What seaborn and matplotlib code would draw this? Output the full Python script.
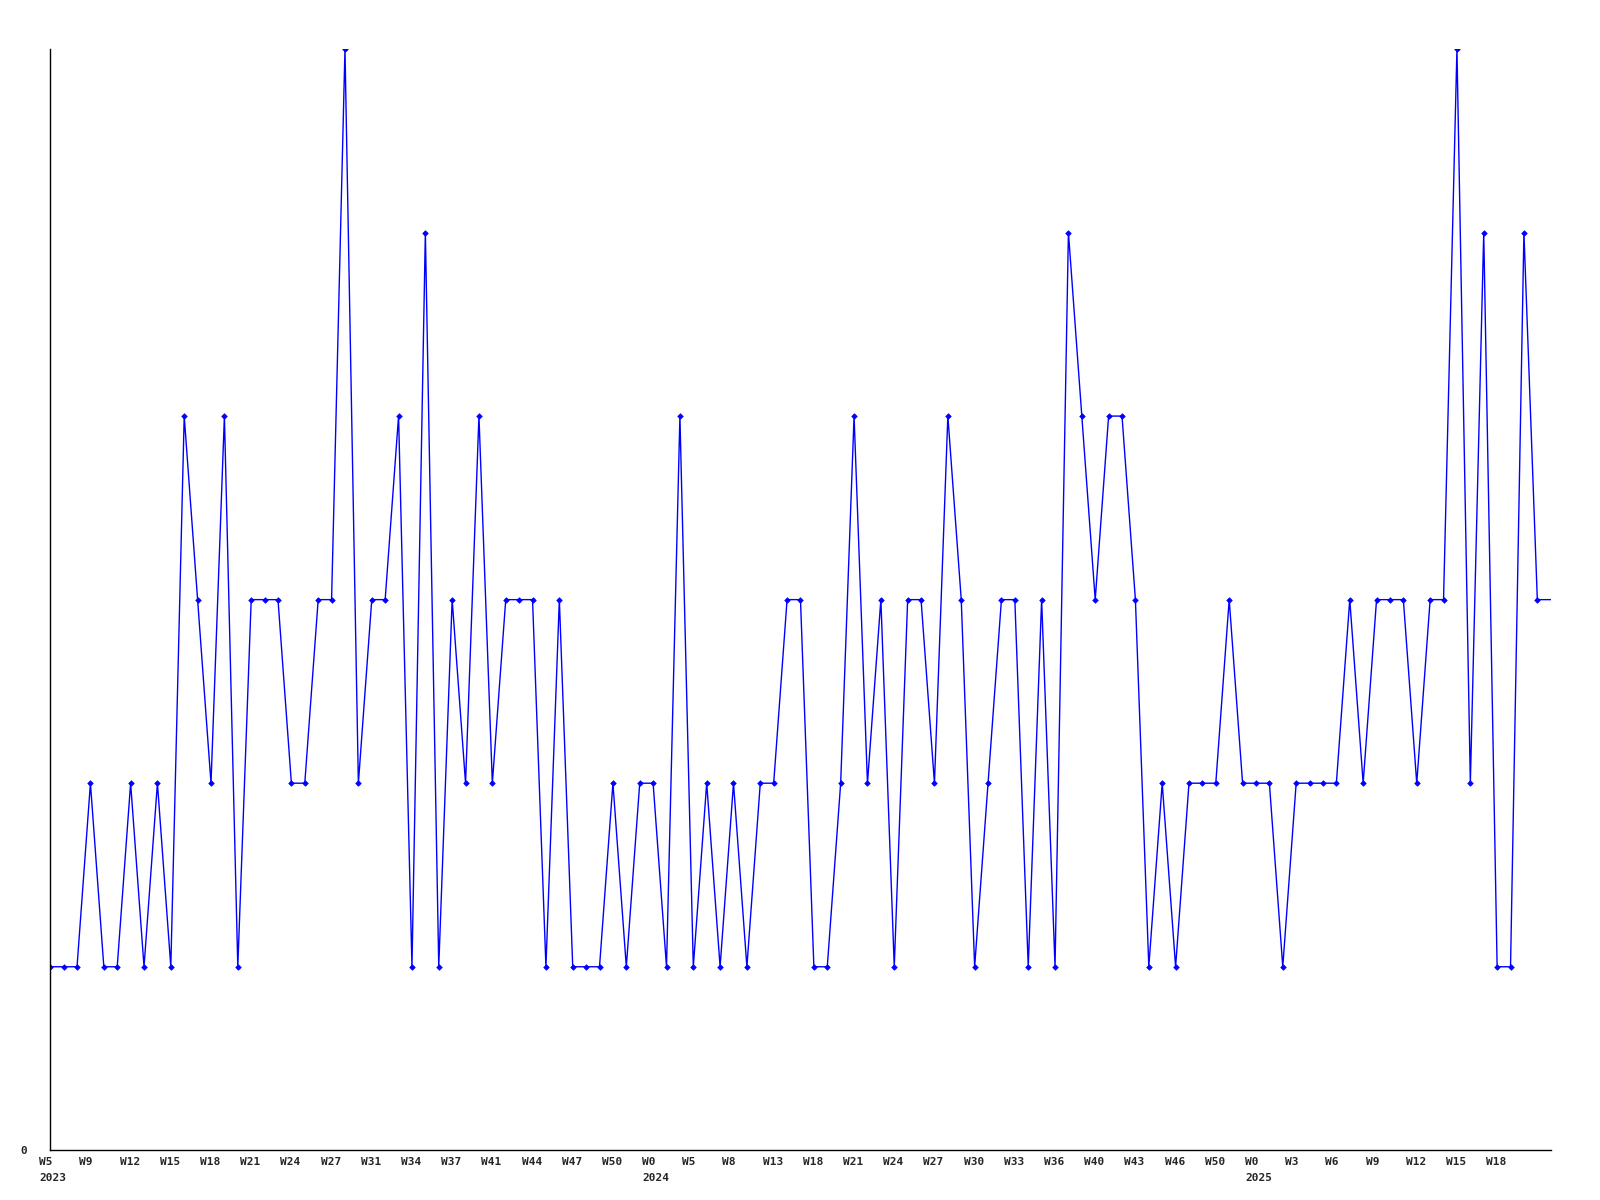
import numpy as np
import pandas as pd
import matplotlib
matplotlib.use("Agg")
import matplotlib.pyplot as plt
import matplotlib.transforms as mtransforms
import seaborn as sns

# weekly counts (last value runs to the right edge)
counts_2023 = [1, 1, 1, 2, 1, 1, 2, 1, 2, 1, 4, 3, 2, 4, 1, 3, 3, 3, 2, 2,
               3, 3, 6, 2, 3, 3, 4, 1, 5, 1, 3, 2, 4, 2, 3, 3, 3, 1, 3, 1,
               1, 1, 2, 1, 2]
counts_2024 = [2, 1, 4, 1, 2, 1, 2, 1, 2, 2, 3, 3, 1, 1, 2, 4, 2, 3, 1, 3,
               3, 2, 4, 3, 1, 2, 3, 3, 1, 3, 1, 5, 4, 3, 4, 4, 3, 1, 2, 1,
               2, 2, 2, 3, 2]
counts_2025 = [2, 2, 1, 2, 2, 2, 2, 3, 2, 3, 3, 3, 2, 3, 3, 6, 2, 5, 1, 1,
               5, 3, 3]

week_labels = ["W5", "W9", "W12", "W15", "W18", "W21", "W24", "W27", "W31",
               "W34", "W37", "W41", "W44", "W47", "W50",
               "W0", "W5", "W8", "W13", "W18", "W21", "W24", "W27", "W30",
               "W33", "W36", "W40", "W43", "W46", "W50",
               "W0", "W3", "W6", "W9", "W12", "W15", "W18"]
year_labels = ["2023", "2024", "2025"]
year_starts = [0, 45, 90]

counts = counts_2023 + counts_2024 + counts_2025
df = pd.DataFrame({"week": np.arange(len(counts)), "count": counts})
df_pts = df.iloc[:-1]

sns.set_style("white")
plt.rcParams["font.family"] = ["DejaVu Sans Mono"]

fig = plt.figure(figsize=(16, 12), dpi=100)
ax = fig.add_axes([0.0314, 0.0414, 0.9378, 0.9178])

sns.lineplot(data=df, x="week", y="count", ax=ax, color="#0000ff",
             linewidth=1.0)
sns.scatterplot(data=df_pts, x="week", y="count", ax=ax, color="#0000ff",
                marker="D", s=8, edgecolor="#0000ff", linewidth=0.5)

ax.set_xlim(0, len(counts) - 1)
ax.set_ylim(0, 6)
ax.set_xlabel("")
ax.set_ylabel("")

ax.set_xticks(np.arange(0, 3 * len(week_labels), 3))
ax.set_xticklabels(week_labels, fontsize=8, fontweight="bold", ha="left")
ax.set_yticks([0])
ax.set_yticklabels(["0"], fontsize=8, fontweight="bold")
ax.tick_params(axis="x", length=0, pad=5)
ax.tick_params(axis="y", length=0, pad=17)

# labels start a bit left of their tick
shift = mtransforms.ScaledTranslation(-0.11, 0, fig.dpi_scale_trans)
for lab in ax.get_xticklabels():
    lab.set_transform(lab.get_transform() + shift)

trans = mtransforms.blended_transform_factory(ax.transData, ax.transAxes)
for yr, start in zip(year_labels, year_starts):
    ax.text(start, -0.0205, yr, transform=trans + shift, fontsize=8,
            fontweight="bold", ha="left", va="top")

for side in ["top", "right"]:
    ax.spines[side].set_visible(False)
for side in ["left", "bottom"]:
    ax.spines[side].set_color("black")
    ax.spines[side].set_linewidth(1.0)

fig.savefig("out.png", dpi=100)
